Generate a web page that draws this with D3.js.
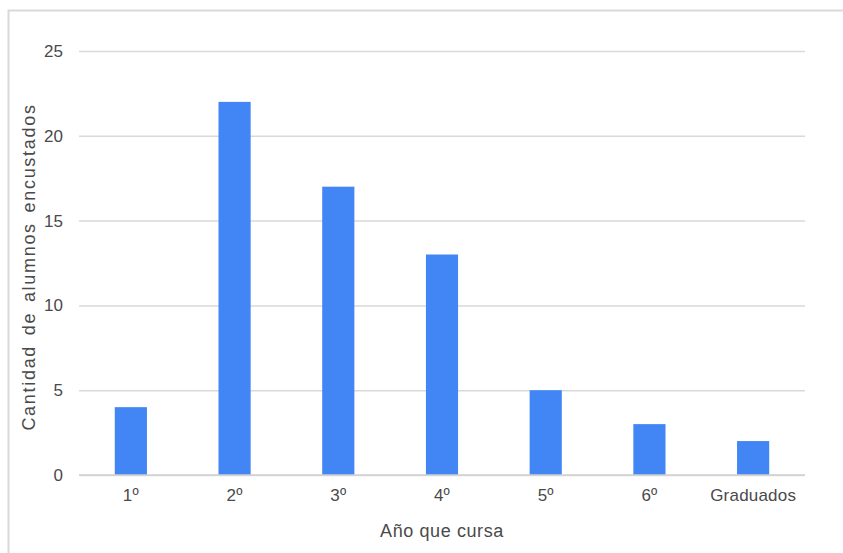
<!DOCTYPE html>
<html><head><meta charset="utf-8">
<script src="https://cdn.jsdelivr.net/npm/d3@7"></script>
<style>body{margin:0;background:#fff}svg{display:block}text{font-family:"Liberation Sans",Arial,sans-serif}</style>
</head><body>
<script>
const categories = ["1º","2º","3º","4º","5º","6º","Graduados"];
const values = [4,22,17,13,5,3,2];
const yTicks = [0,5,10,15,20,25];
const xTitle = "Año que cursa";
const yTitle = "Cantidad de alumnos encustados";

const W = 843, H = 553;
const svg = d3.select("body").append("svg").attr("width", W).attr("height", H);
svg.append("path").attr("d", `M8.5,${H} V10.5 H${W}`).attr("fill","none").attr("stroke","#d9d9d9").attr("stroke-width",2);

const m = {l:79, r:805, t:51, b:475};
const x = d3.scaleBand().domain(categories).range([m.l, m.r]).paddingInner(0.69).paddingOuter(0.345);
const y = d3.scaleLinear().domain([0,25]).range([m.b, m.t]);

const yAxis = svg.append("g").attr("transform",`translate(${m.l},0)`)
  .call(d3.axisLeft(y).tickValues(yTicks).tickSize(-(m.r-m.l)).tickPadding(16));
yAxis.select(".domain").remove();
yAxis.selectAll("line").attr("stroke","#d9d9d9").attr("stroke-width",1.5);
yAxis.selectAll("text").attr("fill","#4a4a4a").attr("font-size","17px");

svg.append("g").selectAll("rect").data(values).join("rect")
  .attr("x",(d,i)=>x(categories[i])).attr("width",x.bandwidth())
  .attr("y",d=>y(d)).attr("height",d=>y(0)-y(d)).attr("fill","#4285F4");

const xAxis = svg.append("g").attr("transform",`translate(0,${m.b})`)
  .call(d3.axisBottom(x).tickSize(0).tickPadding(14));
xAxis.select(".domain").remove();
xAxis.selectAll("text").attr("fill","#4a4a4a").attr("font-size","17px").attr("letter-spacing","0.2px");

svg.append("line").attr("x1",m.l).attr("x2",m.r).attr("y1",y(0)).attr("y2",y(0)).attr("stroke","#d0d0d0").attr("stroke-width",1.5);

svg.append("text").attr("x",442).attr("y",537).attr("text-anchor","middle")
  .attr("font-size","18px").attr("letter-spacing","0.6px").attr("fill","#4a4a4a").text(xTitle);
svg.append("text").attr("transform",`translate(35,267) rotate(-90)`).attr("text-anchor","middle")
  .attr("font-size","18px").attr("letter-spacing","1.7px").attr("word-spacing","3px").attr("fill","#4a4a4a").text(yTitle);
</script>
</body></html>
